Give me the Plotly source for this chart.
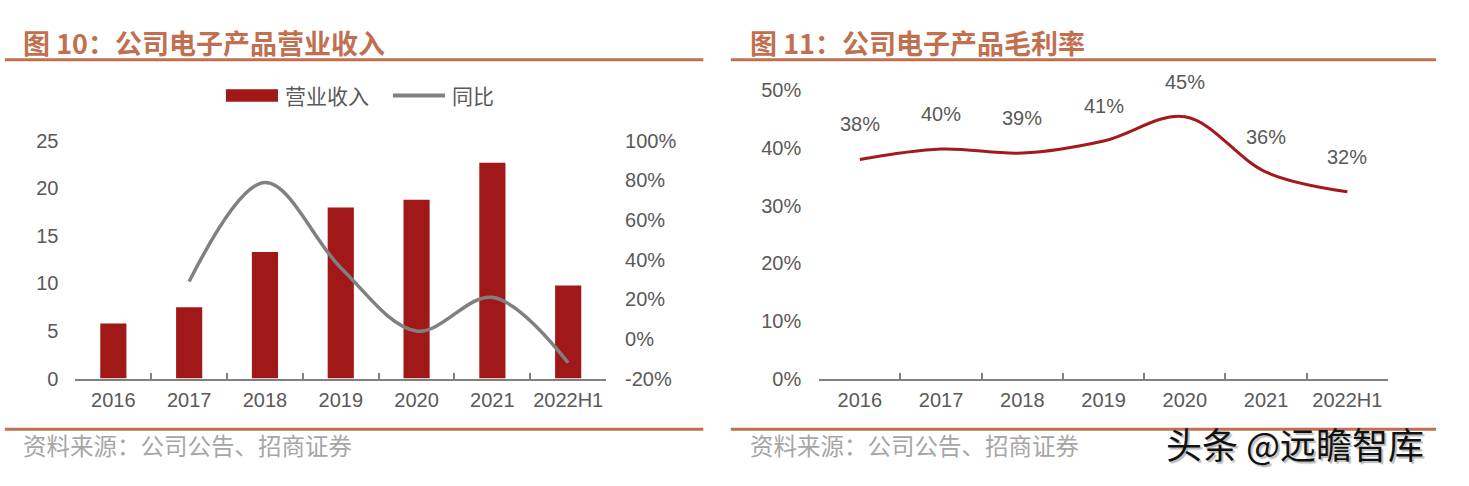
import plotly.graph_objects as go
from plotly.subplots import make_subplots

W, H = 1469, 486

# ---------------- data ----------------
categories = ["2016", "2017", "2018", "2019", "2020", "2021", "2022H1"]
revenue = [5.8, 7.5, 13.3, 18.0, 18.8, 22.7, 9.8]          # 营业收入 (亿元)
yoy = [None, 29, 79, 36, 4, 21, -12]                        # 同比 (%)
gross_margin = [38.0, 39.8, 39.1, 41.2, 45.4, 35.8, 32.4]   # 毛利率 (%)
gm_labels = ["38%", "40%", "39%", "41%", "45%", "36%", "32%"]
left_ticks = [0, 5, 10, 15, 20, 25]
right_ticks = [-20, 0, 20, 40, 60, 80, 100]
gm_ticks = [0, 10, 20, 30, 40, 50]

title_left = "图 10：公司电子产品营业收入"
title_right = "图 11：公司电子产品毛利率"
source_text = "资料来源：公司公告、招商证券"
legend_names = ["营业收入", "同比"]
watermark = "头条 @远瞻智库"

# ---------------- styles ----------------
BAR = "#A01818"
GREY_LINE = "#808080"
RED_LINE = "#A3191C"
TITLE_C = "#C0704F"
TICK_C = "#595959"
SRC_C = "#A6A6A6"
NUM_FONT = "Liberation Sans, Arial, sans-serif"
CJK_FONT = "Noto Sans CJK SC, sans-serif"


def px(x):
    return x / W


def py(y):
    return 1 - y / H


fig = make_subplots(rows=1, cols=2,
                    specs=[[{"secondary_y": True}, {"secondary_y": False}]])

fig.add_trace(go.Bar(
    x=categories, y=revenue, name=legend_names[0],
    marker=dict(color=BAR, line=dict(width=0)), showlegend=False,
), row=1, col=1, secondary_y=False)
fig.add_trace(go.Scatter(
    x=categories, y=yoy, name=legend_names[1], mode="lines",
    line=dict(color=GREY_LINE, width=3.5, shape="spline", smoothing=1.0),
    showlegend=False, connectgaps=False,
), row=1, col=1, secondary_y=True)
fig.add_trace(go.Scatter(
    x=categories, y=gross_margin, mode="lines",
    line=dict(color=RED_LINE, width=3, shape="spline", smoothing=1.0),
    showlegend=False,
), row=1, col=2)

tickfont = dict(family=NUM_FONT, size=20, color=TICK_C)

xcommon = dict(
    type="category", categoryorder="array", categoryarray=categories,
    showline=True, linecolor=GREY_LINE, linewidth=1.5,
    ticks="inside", tickson="boundaries", ticklen=6, tickcolor=GREY_LINE,
    tickwidth=1.5, tickfont=tickfont, showgrid=False, zeroline=False,
    ticklabelstandoff=3, fixedrange=True, range=[-0.5, 6.5], autorange=False,
)
ycommon = dict(
    showgrid=False, zeroline=False, showline=False, ticks="",
    tickfont=tickfont, fixedrange=True,
)

fig.update_layout(
    width=W, height=H,
    margin=dict(l=0, r=0, t=0, b=0),
    paper_bgcolor="white", plot_bgcolor="white",
    bargap=0.655,
    showlegend=False,
)
fig.update_layout(
    xaxis=dict(domain=[px(76.8), px(617)], **xcommon),
    yaxis=dict(domain=[py(385), py(136)], range=[0, 25], tickvals=left_ticks,
               ticklabelstandoff=16, **ycommon),
    yaxis2=dict(range=[-20, 100], tickvals=right_ticks,
                ticktext=[f"{v}%" for v in right_ticks],
                ticklabelstandoff=18, **ycommon),
    xaxis2=dict(domain=[px(834), px(1413)], **xcommon),
    yaxis3=dict(domain=[py(385), py(83)], range=[0, 50], tickvals=gm_ticks,
                ticktext=[f"{v}%" for v in gm_ticks],
                ticklabelstandoff=17, **ycommon),
)

shapes = []
for x0, x1 in [(5, 716), (744, 1462)]:
    shapes.append(dict(type="line", xref="paper", yref="paper",
                       x0=px(x0), x1=px(x1), y0=py(51), y1=py(51),
                       line=dict(color=TITLE_C, width=3)))
    shapes.append(dict(type="line", xref="paper", yref="paper",
                       x0=px(x0), x1=px(x1), y0=py(438), y1=py(438),
                       line=dict(color=TITLE_C, width=3)))
# manual legend symbols
shapes.append(dict(type="rect", xref="paper", yref="paper",
                   x0=px(230), x1=px(283), y0=py(95), y1=py(82),
                   fillcolor=BAR, line=dict(width=0)))
shapes.append(dict(type="line", xref="paper", yref="paper",
                   x0=px(400), x1=px(453), y0=py(88.5), y1=py(88.5),
                   line=dict(color=GREY_LINE, width=4)))
fig.update_layout(shapes=shapes)

ann = []
for x, t in [(21, title_left), (761, title_right)]:
    ann.append(dict(xref="paper", yref="paper", x=px(x), y=py(33),
                    xanchor="left", yanchor="middle", showarrow=False, text=t,
                    font=dict(family=CJK_FONT, size=27, color=TITLE_C, weight=700)))
for x in [21, 761]:
    ann.append(dict(xref="paper", yref="paper", x=px(x), y=py(455),
                    xanchor="left", yanchor="middle", showarrow=False,
                    text=source_text,
                    font=dict(family=CJK_FONT, size=23.5, color=SRC_C)))
for x, t in [(288, legend_names[0]), (458, legend_names[1])]:
    ann.append(dict(xref="paper", yref="paper", x=px(x), y=py(88),
                    xanchor="left", yanchor="middle", showarrow=False, text=t,
                    font=dict(family=CJK_FONT, size=21, color=TICK_C)))
# data labels: category axis positions given by category index
for i, (v, t) in enumerate(zip(gross_margin, gm_labels)):
    ann.append(dict(xref="x2", yref="y3", x=i, y=v, yshift=35,
                    xanchor="center", yanchor="middle", showarrow=False, text=t,
                    font=dict(family=NUM_FONT, size=20, color=TICK_C)))
ann.append(dict(xref="paper", yref="paper", x=px(1185), y=py(452),
                xanchor="left", yanchor="middle", showarrow=False, text=watermark,
                font=dict(family=CJK_FONT, size=36, color="#111111",
                          shadow="2px 2px 1px #bbbbbb")))
fig.update_layout(annotations=ann)

fig.write_html("out.html")
